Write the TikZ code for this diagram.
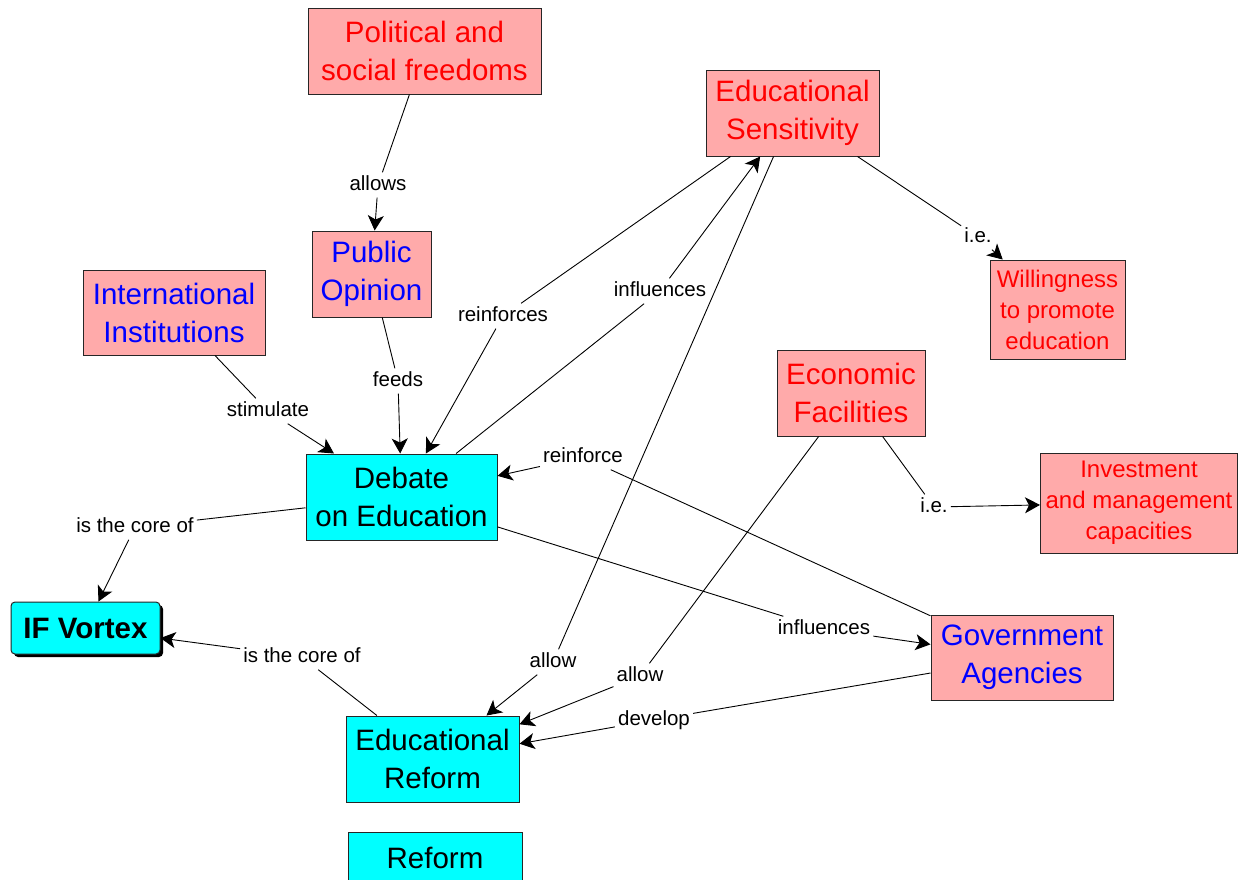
\documentclass[tikz,border=0pt]{standalone}
\usepackage{fontspec}
\setmainfont{Liberation Sans}
\usetikzlibrary{arrows.meta,shadows}
\definecolor{pinkbox}{RGB}{255,170,170}
\definecolor{cyanbox}{RGB}{0,255,255}
\newcommand\bigf{\fontsize{29.5pt}{38pt}\selectfont}
\newcommand\smallf{\fontsize{24pt}{31pt}\selectfont}
\newcommand\labf{\fontsize{20.5pt}{24pt}\selectfont}
\begin{document}
\begin{tikzpicture}[x=1pt,y=-1pt,
  box/.style={draw=black!85, line width=1pt, align=center, inner sep=0pt, font=\bigf},
  pbox/.style={box, fill=pinkbox},
  cbox/.style={box, fill=cyanbox},
  lab/.style={font=\labf, inner sep=3pt, text height=15pt, text depth=4pt},
  con/.style={line width=0.9pt},
  arr/.style={con, -{Stealth[length=15pt,width=16pt,inset=4pt]}}]
\useasboundingbox (0,0) rectangle (1239,879);
\clip (0,0) rectangle (1239,879);
% boxes
\node[pbox, text=red, minimum width=233pt, minimum height=86pt] (pol) at (424.5,51) {Political and\\social freedoms};
\node[pbox, text=red, minimum width=173pt, minimum height=86pt] (esens) at (792.5,113) {Educational\\Sensitivity};
\node[pbox, text=blue, minimum width=119pt, minimum height=86pt] (pub) at (371.5,274) {Public\\Opinion};
\node[pbox, text=blue, minimum width=182pt, minimum height=85pt] (intl) at (174,312.5) {International\\Institutions};
\node[pbox, text=red, font=\smallf, minimum width=135pt, minimum height=99pt] (will) at (1057.5,309.5) {Willingness\\to promote\\education};
\node[pbox, text=red, minimum width=148pt, minimum height=86pt] (econ) at (851,393) {Economic\\Facilities};
\node[pbox, text=red, font=\smallf, minimum width=197pt, minimum height=100pt] (inv) at (1139,503) {Investment\\and management\\capacities};
\node[cbox, minimum width=191pt, minimum height=86pt] (deb) at (401.5,497) {Debate\\on Education};
\node[cbox, rounded corners=4pt, font=\bigf\bfseries, minimum width=149pt, minimum height=52pt,
  drop shadow={shadow xshift=3pt, shadow yshift=-3pt, fill=black, opacity=1}] (ifv) at (85.5,628) {IF Vortex};
\node[pbox, text=blue, minimum width=182pt, minimum height=85pt] (gov) at (1022,657.5) {Government\\Agencies};
\node[cbox, minimum width=173pt, minimum height=86pt] (edr) at (432.5,759) {Educational\\Reform};
\node[cbox, minimum width=174pt, minimum height=52pt] (ref) at (435,858) {Reform};
% labels
\node[lab] (l1) at (378,185) {allows};
\node[lab] (l2) at (398,381) {feeds};
\node[lab] (l3) at (268,411) {stimulate};
\node[lab] (l4) at (503,316) {reinforces};
\node[lab] (l5) at (660,291) {influences};
\node[lab] (l6) at (978,237) {i.e.};
\node[lab] (l7) at (553,662) {allow};
\node[lab] (l8) at (640,676) {allow};
\node[lab] (l9) at (934,507) {i.e.};
\node[lab] (l10) at (583,457) {reinforce};
\node[lab] (l11) at (824,629) {influences};
\node[lab] (l12) at (654,720) {develop};
\node[lab] (l13) at (135,527) {is the core of};
\node[lab] (l14) at (302,657) {is the core of};
% connectors
\draw[con] (pol) -- (l1); \draw[arr] (l1) -- (pub);
\draw[con] (pub) -- (l2); \draw[arr] (l2) -- (deb);
\draw[con] (intl) -- (l3); \draw[arr] (l3) -- (deb);
\draw[con] (esens) -- (l4); \draw[arr] (l4) -- (deb);
\draw[con] (deb) -- (l5); \draw[arr] (l5) -- (esens);
\draw[con] (esens) -- (l6); \draw[arr] (l6) -- (will);
\draw[con] (esens) -- (l7); \draw[arr] (l7) -- (edr);
\draw[con] (econ) -- (l8); \draw[arr] (l8) -- (edr);
\draw[con] (econ) -- (l9); \draw[arr] (l9) -- (inv);
\draw[con] (gov) -- (l10); \draw[arr] (l10) -- (deb);
\draw[con] (deb) -- (l11); \draw[arr] (l11) -- (gov);
\draw[con] (gov) -- (l12); \draw[arr] (l12) -- (edr);
\draw[con] (deb) -- (l13); \draw[arr] (l13) -- (ifv);
\draw[con] (edr) -- (l14); \draw[arr] (l14) -- (ifv);
\end{tikzpicture}
\end{document}
